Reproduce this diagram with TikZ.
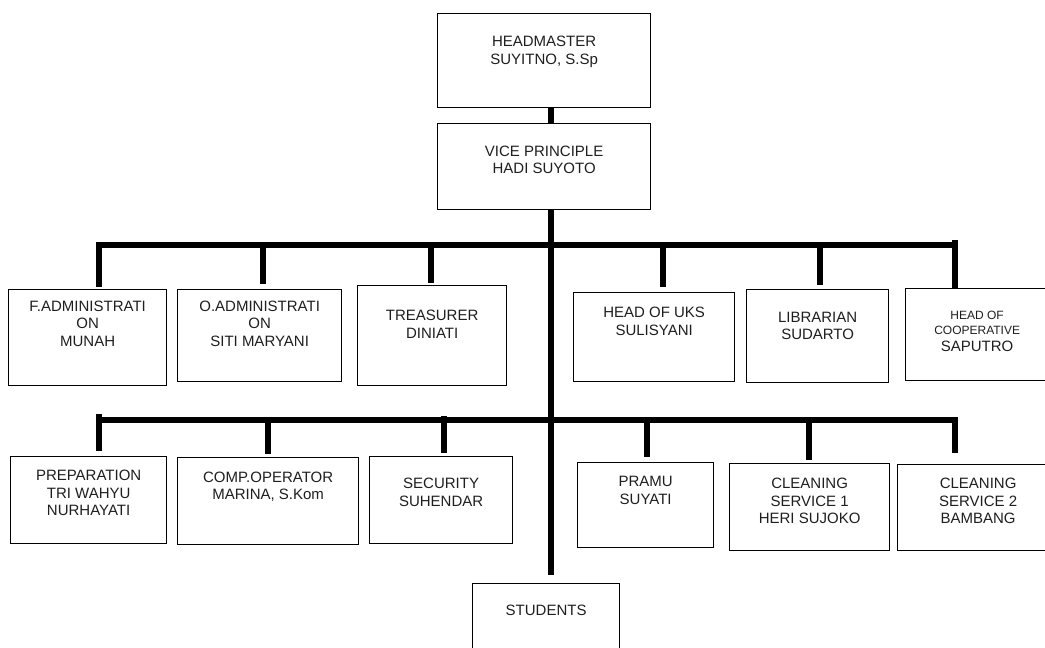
\documentclass[tikz,border=0pt]{standalone}
\usepackage{fontspec}
\setmainfont{Liberation Sans}
\begin{document}
\begin{tikzpicture}[x=1pt,y=-1pt,
  box/.style={draw, line width=1.3pt, inner sep=0pt, anchor=north west},
  lbl/.style={align=center, anchor=north, inner sep=0pt, font=\fontsize{15}{17.5}\selectfont, text=black!88},
  conn/.style={line width=5.5pt},
  busline/.style={line width=6pt}]
\clip (0,0) rectangle (1045,648);
\fill[white] (0,0) rectangle (1045,648);
% boxes
\node[box, minimum width=213pt, minimum height=94pt] (hm) at (437,13) {};
\node[box, minimum width=213pt, minimum height=86pt] (vp) at (437,123) {};
\node[box, minimum width=158pt, minimum height=96pt] (fadm) at (8,289) {};
\node[box, minimum width=164pt, minimum height=92pt] (oadm) at (177,289) {};
\node[box, minimum width=149pt, minimum height=100pt] (treas) at (357,285) {};
\node[box, minimum width=161pt, minimum height=89pt] (uks) at (573,292) {};
\node[box, minimum width=142pt, minimum height=93pt] (lib) at (746,289) {};
\node[box, minimum width=143pt, minimum height=92pt] (coop) at (905,288) {};
\node[box, minimum width=156pt, minimum height=87pt] (prep) at (10,456) {};
\node[box, minimum width=181pt, minimum height=87pt] (comp) at (177,457) {};
\node[box, minimum width=143pt, minimum height=87pt] (sec) at (369,456) {};
\node[box, minimum width=136pt, minimum height=85pt] (pramu) at (577,462) {};
\node[box, minimum width=160pt, minimum height=87pt] (cs1) at (729,463) {};
\node[box, minimum width=161pt, minimum height=86pt] (cs2) at (897,464) {};
\node[box, minimum width=147pt, minimum height=87pt] (stud) at (472,583) {};
% labels
\node[lbl] (hm-t) at ([yshift=-23pt]hm.north) {HEADMASTER\\SUYITNO, S.Sp};
\node[lbl] (vp-t) at ([yshift=-22.7pt]vp.north) {VICE PRINCIPLE\\HADI SUYOTO};
\node[lbl] (fadm-t) at ([yshift=-11.7pt]fadm.north) {F.ADMINISTRATI\\ON\\MUNAH};
\node[lbl] (oadm-t) at ([yshift=-11.7pt]oadm.north) {O.ADMINISTRATI\\ON\\SITI MARYANI};
\node[lbl] (treas-t) at ([yshift=-25pt]treas.north) {TREASURER\\DINIATI};
\node[lbl] (uks-t) at ([yshift=-15.3pt]uks.north) {HEAD OF UKS\\SULISYANI};
\node[lbl] (lib-t) at ([yshift=-22.7pt]lib.north) {LIBRARIAN\\SUDARTO};
\node[lbl] (coop-t) at ([yshift=-22.7pt]coop.north) {{\fontsize{12}{15}\selectfont HEAD OF}\\[-2.5pt]{\fontsize{12}{15}\selectfont COOPERATIVE}\\SAPUTRO};
\node[lbl] (prep-t) at ([yshift=-14pt]prep.north) {PREPARATION\\TRI WAHYU\\NURHAYATI};
\node[lbl] (comp-t) at ([yshift=-14.7pt]comp.north) {COMP.OPERATOR\\MARINA, S.Kom};
\node[lbl] (sec-t) at ([yshift=-22.3pt]sec.north) {SECURITY\\SUHENDAR};
\node[lbl] (pramu-t) at ([yshift=-14pt]pramu.north) {PRAMU\\SUYATI};
\node[lbl] (cs1-t) at ([yshift=-15.3pt]cs1.north) {CLEANING\\SERVICE 1\\HERI SUJOKO};
\node[lbl] (cs2-t) at ([yshift=-14.3pt]cs2.north) {CLEANING\\SERVICE 2\\BAMBANG};
\node[lbl] (stud-t) at ([yshift=-22pt]stud.north) {STUDENTS};
% trunk
\coordinate (tx) at (551,0);
\draw[conn] (tx |- hm.south) -- (tx |- vp.north);
\draw[conn, shorten >=8pt] (tx |- vp.south) -- (tx |- stud.north);
% bus 1
\coordinate (b1L) at (96.25,245);
\coordinate (b1R) at (957.75,245);
\draw[busline] (b1L) -- (b1R);
\coordinate (d11) at (99,242);
\coordinate (d12) at (263,245);
\coordinate (d13) at (431,245);
\coordinate (d14) at (663,245);
\coordinate (d15) at (820,245);
\coordinate (d16) at (955,240);
\draw[conn, shorten >=2.5pt] (d11) -- (d11 |- fadm.north);
\draw[conn, shorten >=5pt] (d12) -- (d12 |- oadm.north);
\draw[conn, shorten >=2.5pt] (d13) -- (d13 |- treas.north);
\draw[conn, shorten >=5pt] (d14) -- (d14 |- uks.north);
\draw[conn, shorten >=4pt] (d15) -- (d15 |- lib.north);
\draw[conn, shorten >=0.5pt] (d16) -- (d16 |- coop.north);
% bus 2
\coordinate (b2L) at (96.25,420);
\coordinate (b2R) at (957.75,420);
\draw[busline] (b2L) -- (b2R);
\coordinate (d21) at (99,414);
\coordinate (d22) at (268,420);
\coordinate (d23) at (444,416);
\coordinate (d24) at (647,420);
\coordinate (d25) at (809,420);
\coordinate (d26) at (955,417);
\draw[conn, shorten >=5pt] (d21) -- (d21 |- prep.north);
\draw[conn, shorten >=3pt] (d22) -- (d22 |- comp.north);
\draw[conn, shorten >=3.5pt] (d23) -- (d23 |- sec.north);
\draw[conn, shorten >=5pt] (d24) -- (d24 |- pramu.north);
\draw[conn, shorten >=3pt] (d25) -- (d25 |- cs1.north);
\draw[conn, shorten >=11pt] (d26) -- (d26 |- cs2.north);
\end{tikzpicture}
\end{document}
